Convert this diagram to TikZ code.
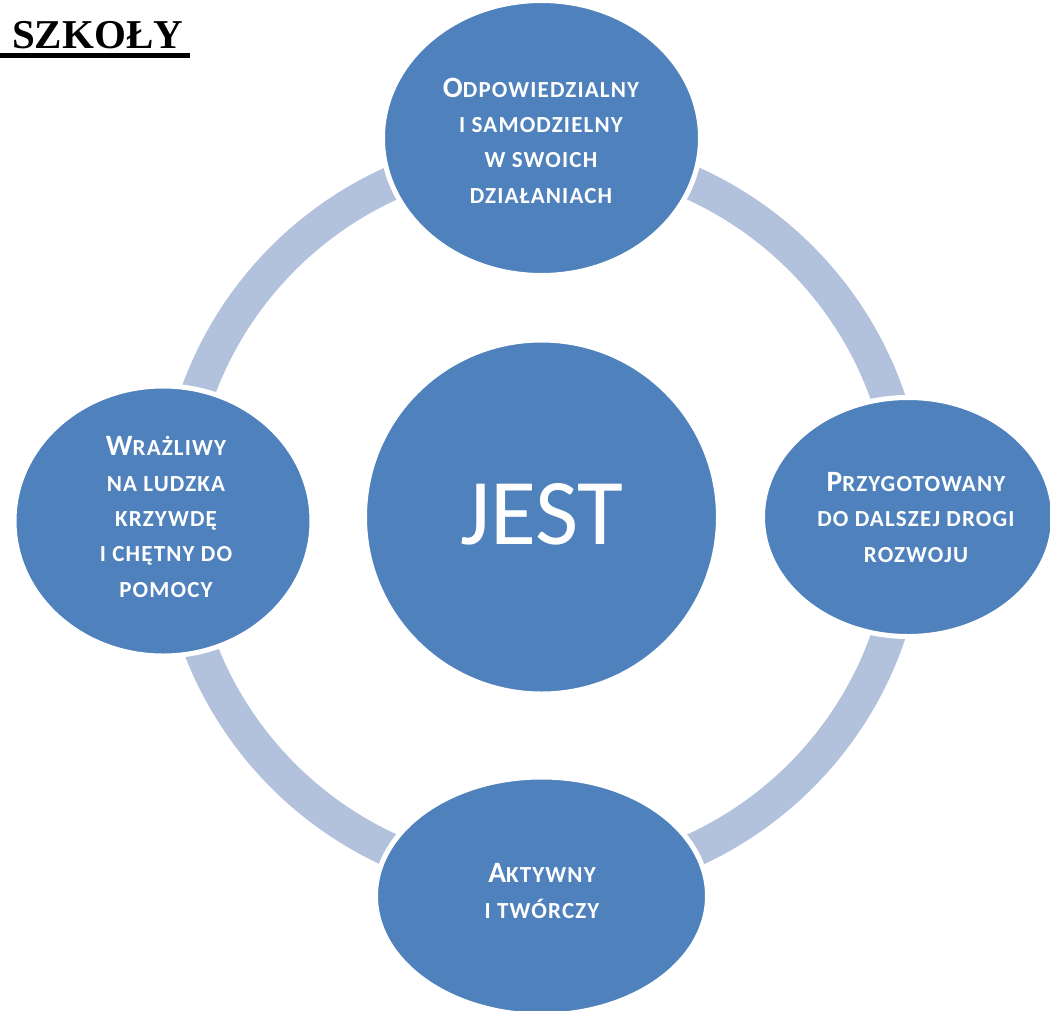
\documentclass[tikz,border=0pt]{standalone}
\usepackage{fontspec}
\setmainfont{Carlito}
\newfontfamily\titlefont{Liberation Serif}
\newfontfamily\calfont{Carlito}
\newfontfamily\calspaced[LetterSpace=5]{Carlito}
\usetikzlibrary{shapes.geometric}
\definecolor{nodeblue}{HTML}{4F81BD}
\definecolor{ringblue}{HTML}{B2C1DC}
\newcommand{\bigL}[1]{{\fontsize{29.5}{35.3}\selectfont #1}}
\tikzset{
  bubble/.style={ellipse, fill=nodeblue, draw=white, line width=5pt, inner sep=0pt},
  ring/.style={draw=ringblue, line width=34pt},
  ntext/.style={text=white, align=center, anchor=base,
    font=\calspaced\bfseries\fontsize{23}{35.3}\selectfont},
}
\begin{document}
\begin{tikzpicture}[x=1pt,y=-1pt]
\useasboundingbox (0,0) rectangle (1050,1010);
\clip (0,0) rectangle (1050,1010);
\fill[white] (0,0) rectangle (1050,1010);
% ring
\draw[ring] (542,517) circle (366);
% nodes
\node[bubble, minimum width=318pt, minimum height=275pt] (top) at (541.5,138) {};
\node[bubble, minimum width=291pt, minimum height=239pt] (right) at (908,517) {};
\node[bubble, minimum width=298pt, minimum height=270pt] (left) at (163,521) {};
\node[bubble, minimum width=332pt, minimum height=238pt] (bottom) at (541.5,896) {};
\node[circle, fill=nodeblue, draw=white, line width=5pt, minimum size=354pt, inner sep=0pt] (center) at (541.5,517) {};
% texts (anchor base = baseline of last line)
\node[text=white, anchor=base, font=\calfont\fontsize{94}{94}\selectfont] (jest) at (542,544) {JEST};
\node[ntext] (toptext) at (541,203) {\bigL{O}DPOWIEDZIALNY\\I SAMODZIELNY\\W SWOICH\\DZIAŁANIACH};
\node[ntext] (righttext) at (916,562) {\bigL{P}RZYGOTOWANY\\DO DALSZEJ DROGI\\ROZWOJU};
\node[ntext] (lefttext) at (166,597) {\bigL{W}RAŻLIWY\\NA LUDZKA\\KRZYWDĘ\\I CHĘTNY DO\\POMOCY};
\node[ntext] (bottomtext) at (542,918) {\bigL{A}KTYWNY\\I TWÓRCZY};
% title
\node[anchor=base west, inner sep=0pt, font=\titlefont\bfseries\fontsize{41}{41}\selectfont] (title) at (12,48) {SZKOŁY};
\draw[line width=5pt] (0,55.5) -- (190,55.5);
\end{tikzpicture}
\end{document}
